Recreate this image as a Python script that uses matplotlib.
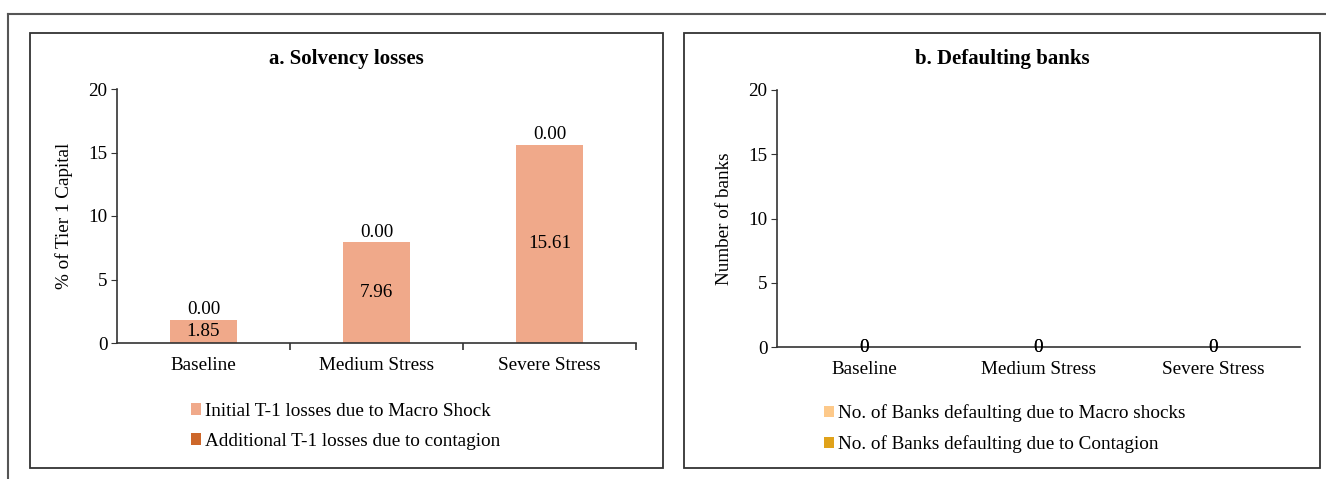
import matplotlib
matplotlib.use("Agg")
import matplotlib.pyplot as plt
from matplotlib.patches import Rectangle
from matplotlib.lines import Line2D
import numpy as np

# ---------------- 数据 ----------------
categories = ["Baseline", "Medium Stress", "Severe Stress"]

initial_losses = [1.85, 7.96, 15.61]      # Initial T-1 losses due to Macro Shock
additional_losses = [0.00, 0.00, 0.00]    # Additional T-1 losses due to contagion

banks_macro = [0, 0, 0]       # No. of Banks defaulting due to Macro shocks
banks_contagion = [0, 0, 0]   # No. of Banks defaulting due to Contagion

legend_a = ["Initial T-1 losses due to Macro Shock",
            "Additional T-1 losses due to contagion"]
legend_b = ["No. of Banks defaulting due to Macro shocks",
            "No. of Banks defaulting due to Contagion"]

# ---------------- 样式 ----------------
plt.rcParams["font.family"] = ["Liberation Serif", "DejaVu Serif"]
FS = 13.8
C_INIT = "#F0A98A"
C_ADD = "#CD672A"
C_MACRO = "#FDC98A"
C_CONT = "#E0A21A"
EDGE = "#333333"

W, H = 1326, 479
fig = plt.figure(figsize=(W / 100, H / 100), dpi=100)


def px(x0, y0, x1, y1):
    """像素坐标 -> figure 比例 [left, bottom, width, height]"""
    return [x0 / W, 1 - y1 / H, (x1 - x0) / W, (y1 - y0) / H]


# 外框线 & 两个面板的方框
fig.add_artist(Line2D([8 / W, 1], [1 - 14 / H] * 2, color="#555555", lw=1.5))
fig.add_artist(Line2D([8 / W] * 2, [0, 1 - 14 / H], color="#555555", lw=1.5))
for box in [(30, 33, 663, 468), (684, 33, 1320, 468)]:
    l, b, w, h = px(*box)
    fig.add_artist(Rectangle((l, b), w, h, transform=fig.transFigure,
                             fill=False, edgecolor=EDGE, lw=1.3))

x = np.arange(len(categories))
width = 0.39


def style_axes(ax, ylabel):
    ax.set_xlim(-0.5, 2.5)
    ax.set_ylim(0, 20)
    ax.set_yticks([0, 5, 10, 15, 20])
    ax.set_xticks(x)
    ax.set_xticklabels(categories, fontsize=FS)
    ax.tick_params(axis="x", length=0, pad=10)
    ax.tick_params(axis="y", labelsize=FS, length=4, color=EDGE, pad=3)
    for s in ["top", "right"]:
        ax.spines[s].set_visible(False)
    for s in ["left", "bottom"]:
        ax.spines[s].set_color(EDGE)
        ax.spines[s].set_linewidth(1.2)
    ax.set_ylabel(ylabel, fontsize=FS, labelpad=11)


# ---------------- a. Solvency losses ----------------
ax1 = fig.add_axes(px(117, 89, 636, 343))
b1 = ax1.bar(x, initial_losses, width, color=C_INIT, label=legend_a[0])
b2 = ax1.bar(x, additional_losses, width, bottom=initial_losses,
             color=C_ADD, label=legend_a[1])
ax1.bar_label(b1, labels=[f"{v:.2f}" for v in initial_losses],
              label_type="center", fontsize=FS)
ax1.bar_label(b2, labels=[f"{v:.2f}" for v in additional_losses],
              label_type="edge", padding=1, fontsize=FS)
style_axes(ax1, "% of Tier 1 Capital")
ax1.set_xticks([0.5, 1.5, 2.5], minor=True)
ax1.tick_params(axis="x", which="minor", length=5, color=EDGE, width=1.2)

fig.text(346 / W, 1 - 59 / H, "a. Solvency losses", ha="center", va="center",
         fontsize=15, fontweight="bold")
fig.legend(handles=[b1, b2], loc="upper left",
           bbox_to_anchor=(181 / W, 1 - 393 / H), frameon=False,
           fontsize=FS, handlelength=0.55, handleheight=0.55,
           handletextpad=0.2, labelspacing=0.68, borderpad=0)

# ---------------- b. Defaulting banks ----------------
ax2 = fig.add_axes(px(777, 90, 1300, 347))
c1 = ax2.bar(x, banks_macro, width, color=C_MACRO, label=legend_b[0])
c2 = ax2.bar(x, banks_contagion, width, bottom=banks_macro,
             color=C_CONT, label=legend_b[1])
ax2.bar_label(c1, labels=[str(v) for v in banks_macro],
              label_type="center", fontsize=FS)
ax2.bar_label(c2, labels=[str(v) for v in banks_contagion],
              label_type="center", fontsize=FS)
style_axes(ax2, "Number of banks")

fig.text(1002 / W, 1 - 59 / H, "b. Defaulting banks", ha="center", va="center",
         fontsize=15, fontweight="bold")
fig.legend(handles=[c1, c2], loc="upper left",
           bbox_to_anchor=(814 / W, 1 - 395 / H), frameon=False,
           fontsize=FS, handlelength=0.55, handleheight=0.55,
           handletextpad=0.2, labelspacing=0.68, borderpad=0)

fig.savefig("out.png", dpi=100)
